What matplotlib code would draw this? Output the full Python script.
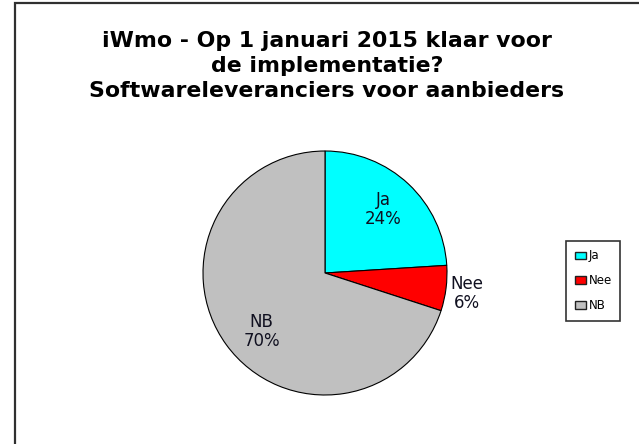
import matplotlib
matplotlib.use("Agg")
import matplotlib.pyplot as plt
from matplotlib.patches import Rectangle, Patch

categories = ["Ja", "Nee", "NB"]
percentages = [24, 6, 70]
colors = ["#00FFFF", "#FF0000", "#C0C0C0"]
title = "iWmo - Op 1 januari 2015 klaar voor\nde implementatie?\nSoftwareleveranciers voor aanbieders"

W, H = 639, 444
fig = plt.figure(figsize=(W / 100, H / 100), dpi=100)
fig.patch.set_facecolor("white")

# chart frame (cropped at right and bottom)
fig.patches.append(Rectangle((15 / W, -0.1), 1.0, (H - 3) / H + 0.1, transform=fig.transFigure,
                             fill=False, edgecolor="#303030", linewidth=1.6))

fig.text(327 / W, 1 - 66 / H, title, ha="center", va="center", fontsize=15.8,
         fontweight="bold", color="black", linespacing=1.3)

# pie: center (325, 273), radius 122 px
cx, cy, r = 325, 273, 122
ax = fig.add_axes([(cx - r) / W, 1 - (cy + r) / H, 2 * r / W, 2 * r / H])
wedges, _ = ax.pie(percentages, colors=colors, startangle=90, counterclock=False,
                   wedgeprops=dict(edgecolor="black", linewidth=0.8))
ax.set_xlim(-1, 1)
ax.set_ylim(-1, 1)
ax.set_aspect("equal")
ax.axis("off")

label_xy = [(0.48, 0.52), (1.16, -0.17), (-0.52, -0.48)]
for name, pct, (x, y) in zip(categories, percentages, label_xy):
    ax.text(x, y, f"{name}\n{pct}%", ha="center", va="center", fontsize=12,
            color="#101020", linespacing=1.05)

handles = [Patch(facecolor=c, edgecolor="#202020", linewidth=1) for c in colors]
leg = fig.legend(handles, categories, loc="upper left", bbox_to_anchor=(566 / W, 1 - 241 / H),
                 fontsize=8.5, frameon=True, fancybox=False, handlelength=1.0, handleheight=0.6,
                 handletextpad=0.2, labelspacing=1.0, borderpad=0.72, borderaxespad=0)
leg.get_frame().set_edgecolor("black")
leg.get_frame().set_linewidth(1.2)

fig.savefig("out.png", dpi=100)
